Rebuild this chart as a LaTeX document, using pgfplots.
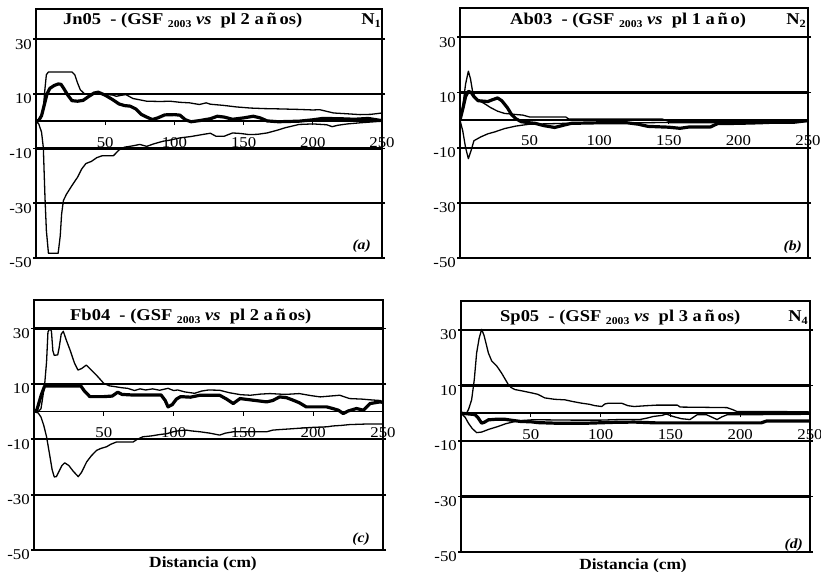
\documentclass[border=0pt]{standalone}
\usepackage{fontspec}
\setmainfont{Liberation Serif}[FakeStretch=1.12]
\usepackage{pgfplots}
\pgfplotsset{compat=1.18}
\pgfplotsset{
  panel/.style={
    scale only axis, anchor=south west,
    xmin=0, xmax=250, ymin=-50,
    axis line style={line width=2.4pt},
    xtick=\empty,
    ytick={-50,-30,-10,10,30},
    yticklabels={-50,-30,-10,10,30},
    yticklabel style={anchor=east, yshift=-5pt, inner sep=1pt, font=\fontsize{15}{17}\selectfont},
    tick align=outside, major tick length=3pt,
    ytick style={line width=1.8pt, black},
    ymajorgrids, grid style={line width=2.2pt, black},
    clip=true,
  },
  zline/.style={
    scale only axis, anchor=south west,
    xmin=0, xmax=250, ymin=-50,
    axis x line=middle, axis y line=none, ytick=\empty,
    axis line style={-, line width=1.4pt},
    xtick={50,100,150,200,250},
    xticklabels={50,100,150,200,250},
    tick align=outside, major tick length=4pt,
    xtick style={line width=1pt, black},
    xticklabel style={anchor=center, yshift=-17pt, font=\fontsize{15}{17}\selectfont},
  },
  thin/.style={black, line width=1.3pt, line join=round},
  thick/.style={black, line width=3.2pt, line join=round},
}
\newcommand{\ttl}[3]{{\fontsize{16.5}{18}\selectfont\bfseries #1\ \ - (GSF {\fontsize{10.5}{12}\selectfont\raisebox{-3pt}{2003}} \textit{vs}\ \ pl\ #2 a\,ñ\,#3)}}
\newcommand{\nn}[1]{{\fontsize{16.5}{18}\selectfont\bfseries N{\fontsize{11}{12}\selectfont\raisebox{-2.5pt}{#1}}}}
\begin{document}
\begin{tikzpicture}
\useasboundingbox (0,0) rectangle (821pt,571pt);

% ---------------- (a)
\begin{axis}[panel, at={(36pt,313pt)}, width=346pt, height=249pt, ymax=41]
\addplot[thin] coordinates {(0,0) (3,0.5) (5,3) (6.5,12) (7.5,17) (9,18) (26,18) (28,17) (30,14) (32,11.5) (35,10) (40,10) (45,10.3) (50,9.7) (55,9.6) (58,9.1) (62,9.5) (65,9.7) (70,8.3) (75,7.8) (80,7.3) (90,7.2) (97,7.3) (104,6.9) (111,6.7) (118,6.1) (123,6.7) (126,6.2) (135,5.8) (145,5.2) (155,4.8) (165,4.6) (175,4.5) (190,4.3) (200,4.1) (205,4.2) (210,3.6) (215,3.0) (225,2.7) (234,2.4) (242,2.5) (250,3.0)};
\addplot[thick] coordinates {(0,0) (2,0.3) (4,2) (6,6) (8,10) (10,12) (13,13) (16,13.6) (18,13.5) (20,12) (23,9.5) (26,7.5) (30,7.3) (34,7.6) (38,9) (42,10.3) (45,10.6) (50,9.5) (55,8) (60,6.3) (64,5.7) (68,5.5) (72,4.5) (76,2.5) (80,1.5) (84,0.6) (88,1.2) (93,2.3) (100,2.4) (104,2.2) (108,0.5) (112,-0.2) (118,0.2) (126,0.9) (131,1.8) (136,1.5) (142,0.7) (150,1.2) (157,1.8) (162,1.2) (167,0.1) (175,-0.2) (190,0) (200,0.5) (207,1) (220,0.9) (230,0.7) (240,1) (245,0.6) (250,0.2)};
\addplot[thin] coordinates {(0,0) (2,-1) (4,-4) (5.3,-9.7) (6.5,-28) (7.5,-40) (9,-48.3) (16,-48.3) (17.5,-42) (18.5,-34) (19.8,-29) (22,-26.7) (26,-23.5) (30,-20.5) (33,-17.5) (36,-15.5) (40,-14.7) (44,-13.3) (48,-12.6) (56,-12.6) (60,-10.5) (64,-9.5) (70,-9) (75,-8.5) (80,-9.2) (85,-8.3) (92,-7.3) (96,-7) (104,-6.1) (112,-5.6) (120,-4.9) (126,-4.4) (130,-5.5) (136,-5.5) (142,-4.3) (148,-4.5) (154,-4.9) (160,-4.8) (167,-4.3) (175,-3.2) (180,-2.4) (190,-1.2) (200,-1) (210,-1.3) (214,-2) (218,-1.5) (225,-1) (234,-0.6) (250,0)};
\end{axis}
\begin{axis}[zline, at={(36pt,313pt)}, width=346pt, height=249pt, ymax=41]
\end{axis}

% ---------------- (b)
\begin{axis}[panel, at={(460pt,313pt)}, width=348pt, height=250pt, ymax=40.6]
\addplot[thin] coordinates {(0,0) (2,5) (4,13) (6,17.7) (7.5,15) (9,10.5) (11,8) (14,7) (18,5.8) (22,4.5) (27,3.2) (32,2.4) (40,2) (45,1.8) (50,1.1) (76,1.1) (78,0.4) (145,0.4) (150,-0.5) (200,-0.6) (250,-0.3)};
\addplot[thick] coordinates {(0,0) (2,4) (4,8.5) (6,10.4) (8,10) (10,8.5) (13,7) (20,6.7) (23,7.3) (27,8) (30,7) (34,4.5) (37,2) (40,0.5) (44,-0.6) (50,-1) (54,-1.2) (60,-2) (68,-2.7) (75,-1.8) (80,-1.2) (100,-1) (120,-1) (128,-1.5) (135,-2.3) (150,-2.6) (158,-3) (165,-2.5) (180,-2.5) (185,-1.3) (200,-1.2) (215,-1) (225,-0.8) (240,-0.8) (250,-0.2)};
\addplot[thin] coordinates {(0,0) (2,-4) (4,-10) (6,-14) (8,-11) (10,-7.5) (15,-6.1) (20,-5) (25,-4.3) (32,-3.1) (40,-2.2) (50,-1.5) (60,-1.4) (75,-1.2) (100,-1) (130,-1.0) (145,-0.9) (160,-1) (200,-1) (250,-0.5)};
\end{axis}
\begin{axis}[zline, at={(460pt,313pt)}, width=348pt, height=250pt, ymax=40.6]
\end{axis}

% ---------------- (c)
\begin{axis}[panel, at={(34pt,21pt)}, width=349pt, height=250pt, ymax=40.3]
\addplot[thin] coordinates {(0,0) (3,0) (5,1) (7.6,9.6) (9,18) (10,28.8) (11.5,30) (12.5,29) (13.5,22) (14.5,20.3) (17,20.5) (18,23) (19.5,28) (21,29) (23,26) (26,22) (29,17.5) (31.5,15) (34,15.5) (37.5,16.8) (41,15) (45,13) (50,10.2) (54,9.3) (58,9) (63,8.6) (67,8.4) (72,7.6) (76,8.2) (80,7.8) (85,8.2) (90,7.7) (96,8.4) (100,7.6) (103,7.8) (108,7.1) (115,6.6) (120,7.4) (125,7.8) (133,7.7) (140,6.8) (148,6.1) (155,5.9) (162,6.3) (169,6.5) (180,6.2) (190,6.5) (198,5.8) (205,5.3) (212,5.6) (219,5.9) (226,4.7) (235,4.5) (242,4.2) (248,4) (250,3.2)};
\addplot[thick] coordinates {(0,0) (2,0.5) (5.2,6) (7.6,9.2) (10,9.2) (33.6,9.2) (36,7.5) (40,5.4) (50,5.4) (56,5.6) (60,7) (63,6.2) (70,6) (80,6) (91,6) (94,4) (96,1.7) (99,2.5) (102,4.5) (105,5.4) (112,5.2) (119,5.9) (133,5.9) (138,4.5) (142.7,2.9) (147.6,4.7) (157,4.1) (166.7,3.5) (171,4) (176,5.3) (181,5) (185.7,4.1) (190,3.2) (195,1.7) (209.6,1.7) (214,1.1) (218,0.5) (221.5,-0.7) (225,0.2) (231,1.1) (236,0.5) (240.7,2.9) (248,3.5) (250,3.3)};
\addplot[thin] coordinates {(0,0) (3,-0.5) (5,-2) (7,-5) (9,-9.1) (11,-15) (13,-21) (14.5,-23.6) (16,-23.5) (18,-21.5) (20,-19.5) (22,-18.5) (25,-19.5) (28,-21.5) (31.7,-23.5) (34,-22) (37.7,-18.2) (41,-16) (44.9,-14) (48,-13.3) (52,-12.7) (55,-11.8) (59,-11) (65,-11) (71,-11) (74,-10) (78,-9.1) (84,-8.8) (90,-8.3) (95,-8) (99.7,-7.3) (104,-6.9) (109,-6.7) (113,-7) (119,-7.3) (126,-7.8) (133,-8.5) (137,-7.8) (142.8,-7.3) (155,-7.3) (166.7,-7.3) (171,-6.7) (176,-6.5) (185,-6.2) (190.5,-6) (200,-5.7) (210,-5.5) (214,-5.2) (220,-5) (226,-4.7) (238,-4.5) (250,-4.5)};
\end{axis}
\begin{axis}[zline, at={(34pt,21pt)}, width=349pt, height=250pt, ymax=40.3]
\end{axis}

% ---------------- (d)
\begin{axis}[panel, at={(461pt,19pt)}, width=349pt, height=251pt, ymax=40.4]
\addplot[thin] coordinates {(0,0) (4,0) (5.5,1.5) (7.6,4.8) (9.5,12) (11.2,21.7) (13,27) (14.8,30.2) (16.5,28) (18,25) (19.6,21.7) (22,18.8) (25.6,17) (29,14.5) (33.9,10.3) (36,9.2) (38.7,8.5) (44,8) (50.6,7.3) (55,6.8) (60,5.5) (67,5) (74.5,4.8) (80,4.2) (86.4,3.6) (92,3.2) (96,2.7) (100.8,2.4) (103,3.3) (105.6,3.6) (115,3.6) (119.6,2.7) (124,2.4) (133,2.7) (140,2.9) (155,2.9) (157,2.2) (175,2.1) (190.5,2) (195,1.2) (197.6,0.6) (220,0.6) (248,0.5) (250,0.4)};
\addplot[thick] coordinates {(0,0) (10,-0.5) (12,-1.5) (14.8,-3.6) (17,-3.2) (19.6,-2.4) (25,-2.2) (31.5,-2.2) (37,-2.6) (43,-3) (50,-3.1) (55,-3.4) (67,-3.6) (91,-3.6) (110,-3.3) (124,-3.2) (140,-3.5) (160,-3.5) (190,-3.5) (215,-3.5) (219,-2.8) (250,-2.8)};
\addplot[thin] coordinates {(0,0) (3,-1.5) (5.3,-3.6) (8,-5.5) (11.2,-7) (14.8,-6.8) (20,-5.8) (26.5,-4.8) (32,-3.8) (38.7,-3) (45,-2.6) (50.6,-2.4) (60,-2.4) (80,-2.5) (100,-2.5) (113,-2.3) (128,-2.3) (133,-1.8) (137.6,-1.2) (144,-0.8) (147,-0.3) (152,-1.2) (158,-2) (164,-2.3) (169,-0.6) (176,-0.6) (180,-1.5) (183.4,-2.3) (187,-1.3) (190.5,-0.6) (220,-0.5) (250,-0.4)};
\end{axis}
\begin{axis}[zline, at={(461pt,19pt)}, width=349pt, height=251pt, ymax=40.4]
\end{axis}

% ---------------- texts
\node[anchor=base west, inner sep=0pt] at (63pt,546pt) {\ttl{Jn05}{2}{os}};
\node[anchor=base east, inner sep=0pt] at (381pt,546pt) {\nn{1}};
\node[anchor=base west, inner sep=0pt] at (510pt,546pt) {\ttl{Ab03}{1}{o}};
\node[anchor=base east, inner sep=0pt] at (806pt,546pt) {\nn{2}};
\node[anchor=base west, inner sep=0pt] at (70pt,251pt) {\ttl{Fb04}{2}{os}};
\node[anchor=base west, inner sep=0pt] at (500pt,249.5pt) {\ttl{Sp05}{3}{os}};
\node[anchor=base east, inner sep=0pt] at (808pt,249.5pt) {\nn{4}};
\node[anchor=base east, inner sep=0pt, font=\fontsize{14}{16}\selectfont\bfseries\itshape] at (371pt,321pt) {(a)};
\node[anchor=base east, inner sep=0pt, font=\fontsize{14}{16}\selectfont\bfseries\itshape] at (802pt,320pt) {(b)};
\node[anchor=base east, inner sep=0pt, font=\fontsize{14}{16}\selectfont\bfseries\itshape] at (370pt,29pt) {(c)};
\node[anchor=base east, inner sep=0pt, font=\fontsize{14}{16}\selectfont\bfseries\itshape] at (803pt,23pt) {(d)};
\node[anchor=base, inner sep=0pt, font=\fontsize{15.5}{17}\selectfont\bfseries] at (203pt,4pt) {Distancia (cm)};
\node[anchor=base, inner sep=0pt, font=\fontsize{15.5}{17}\selectfont\bfseries] at (633pt,2pt) {Distancia (cm)};
\end{tikzpicture}
\end{document}
